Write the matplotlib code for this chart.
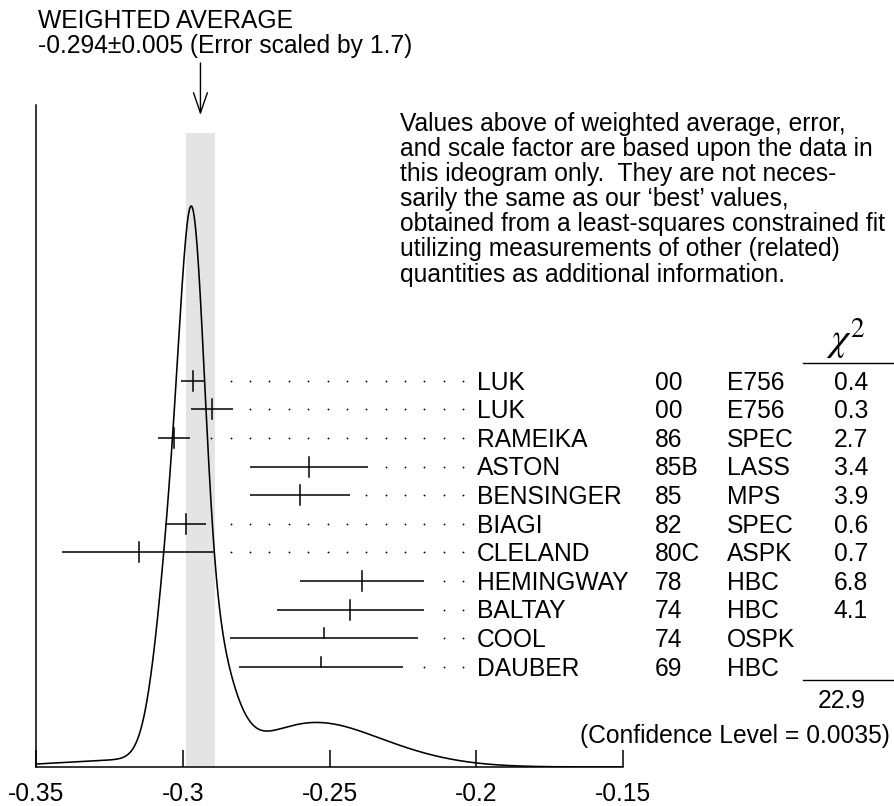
import numpy as np
import matplotlib
matplotlib.use("Agg")
import matplotlib.pyplot as plt
from matplotlib.transforms import blended_transform_factory
from matplotlib.lines import Line2D

plt.rcParams['font.family'] = ['Liberation Sans', 'DejaVu Sans']
plt.rcParams['mathtext.fontset'] = 'stix'

# ---------------- data ----------------
names = ['LUK', 'LUK', 'RAMEIKA', 'ASTON', 'BENSINGER', 'BIAGI', 'CLELAND',
         'HEMINGWAY', 'BALTAY', 'COOL', 'DAUBER']
years = ['00', '00', '86', '85B', '85', '82', '80C', '78', '74', '74', '69']
techs = ['E756', 'E756', 'SPEC', 'LASS', 'MPS', 'SPEC', 'ASPK', 'HBC', 'HBC',
         'OSPK', 'HBC']
values = [-0.2965, -0.2900, -0.3030, -0.2570, -0.2600, -0.2990, -0.3150,
          -0.2390, -0.2430, -0.2520, -0.2530]
errors = [0.0040, 0.0072, 0.0056, 0.0200, 0.0170, 0.0070, 0.0260,
          0.0210, 0.0250, 0.0320, 0.0280]
chi2 = ['0.4', '0.3', '2.7', '3.4', '3.9', '0.6', '0.7', '6.8', '4.1', '', '']
used = [True, True, True, True, True, True, True, True, True, False, False]
chi2_total = '22.9'
conf_level = '0.0035'
avg_value = -0.294
avg_error = 0.005
scale_factor = '1.7'
xticks = [-0.35, -0.3, -0.25, -0.2, -0.15]
xticklabels = ['-0.35', '-0.3', '-0.25', '-0.2', '-0.15']

# ---------------- figure ----------------
W, H = 895, 806
fig = plt.figure(figsize=(W / 100, H / 100), dpi=100)
fx = lambda px: px / W
fy = lambda py: 1 - py / H

FS = 17.7

ax = fig.add_axes([fx(36), 39 / H, 587.3 / W, 662 / H])
ax.set_xlim(-0.35, -0.15)
ax.set_ylim(0, 1)
for s in ['top', 'right']:
    ax.spines[s].set_visible(False)
for s in ['left', 'bottom']:
    ax.spines[s].set_linewidth(1.1)
ax.set_yticks([])
ax.set_xticks(xticks)
ax.set_xticklabels(xticklabels)
ax.tick_params(axis='x', direction='in', length=12, width=1.1, pad=11,
               labelsize=FS)

# weighted average band
ax.axvspan(avg_value - avg_error, avg_value + avg_error, ymin=0, ymax=0.9577,
           color='#e4e4e4', lw=0, zorder=0)

# ideogram curve: sum of gaussians with area proportional to 1/sigma
xs = np.linspace(-0.35, -0.15, 3000)
dens = np.zeros_like(xs)
for v, e, u in zip(values, errors, used):
    if u:
        dens += (1.0 / e) * np.exp(-0.5 * ((xs - v) / e) ** 2) / (e * np.sqrt(2 * np.pi))
peak_frac = 0.8474
ax.plot(xs, dens / dens.max() * peak_frac, color='black', lw=1.15, zorder=2)

# measurements
row0 = 0.5835
drow = 28.6 / 662
tick_h = 10 / 662
dot_end = -0.35 + (463 - 36) / 2936.5
dot_step = 19.35 / 2936.5
gap = 9 / 2936.5
dots_x_all = dot_end - dot_step * np.arange(0, 40)

tr_row = blended_transform_factory(fig.transFigure, ax.transData)
base_off = 8.8 / 662

for i, (v, e) in enumerate(zip(values, errors)):
    y = row0 - i * drow
    ax.plot([v - e, v + e], [y, y], color='black', lw=1.1, zorder=3,
            solid_capstyle='butt')
    if used[i]:
        ax.plot([v, v], [y - tick_h, y + tick_h], color='black', lw=1.1, zorder=3)
    else:
        ax.plot([v, v], [y, y + tick_h], color='black', lw=1.1, zorder=3)
    dx = dots_x_all[dots_x_all > v + e + gap]
    ax.plot(dx, np.full_like(dx, y), ls='none', marker='o', ms=1.3,
            color='black', mew=0, zorder=3)
    yb = y - base_off
    ax.text(fx(477), yb, names[i], transform=tr_row, fontsize=FS, va='baseline', ha='left')
    ax.text(fx(655), yb, years[i], transform=tr_row, fontsize=FS, va='baseline', ha='left')
    ax.text(fx(727), yb, techs[i], transform=tr_row, fontsize=FS, va='baseline', ha='left')
    if chi2[i]:
        ax.text(fx(868), yb, chi2[i], transform=tr_row, fontsize=FS,
                va='baseline', ha='right')

# chi2 header and total
fig.text(fx(846), fy(361), r'$\chi^2$', fontsize=28, ha='center', va='bottom')
fig.add_artist(Line2D([fx(803), fx(893)], [fy(363), fy(363)],
                      transform=fig.transFigure, color='black', lw=1.0))
fig.add_artist(Line2D([fx(803), fx(893)], [fy(680), fy(680)],
                      transform=fig.transFigure, color='black', lw=1.0))
fig.text(fx(866), fy(708), chi2_total, fontsize=FS, ha='right', va='baseline')
fig.text(fx(890), fy(743), '(Confidence Level = %s)' % conf_level, fontsize=FS,
         ha='right', va='baseline')

# header
fig.text(fx(38), fy(28.5), 'WEIGHTED AVERAGE', fontsize=FS, va='baseline')
fig.text(fx(38), fy(53.5), '%.3f\u00b1%.3f (Error scaled by %s)' % (avg_value, avg_error, scale_factor),
         fontsize=FS, va='baseline')

ax.annotate('', xy=(avg_value, H - 115), xycoords=('data', 'figure pixels'),
            xytext=(avg_value, H - 63), textcoords=('data', 'figure pixels'),
            arrowprops=dict(arrowstyle='->,head_length=1.45,head_width=0.5',
                            mutation_scale=10, lw=1.0, color='black',
                            shrinkA=0, shrinkB=0))

# note paragraph
note = ["Values above of weighted average, error,",
        "and scale factor are based upon the data in",
        "this ideogram only.  They are not neces-",
        "sarily the same as our \u2018best\u2019 values,",
        "obtained from a least-squares constrained fit",
        "utilizing measurements of other (related)",
        "quantities as additional information."]
for k, line in enumerate(note):
    fig.text(fx(400), fy(130.5 + 25.2 * k), line, fontsize=FS, va='baseline')

fig.savefig('out.png', dpi=100)
